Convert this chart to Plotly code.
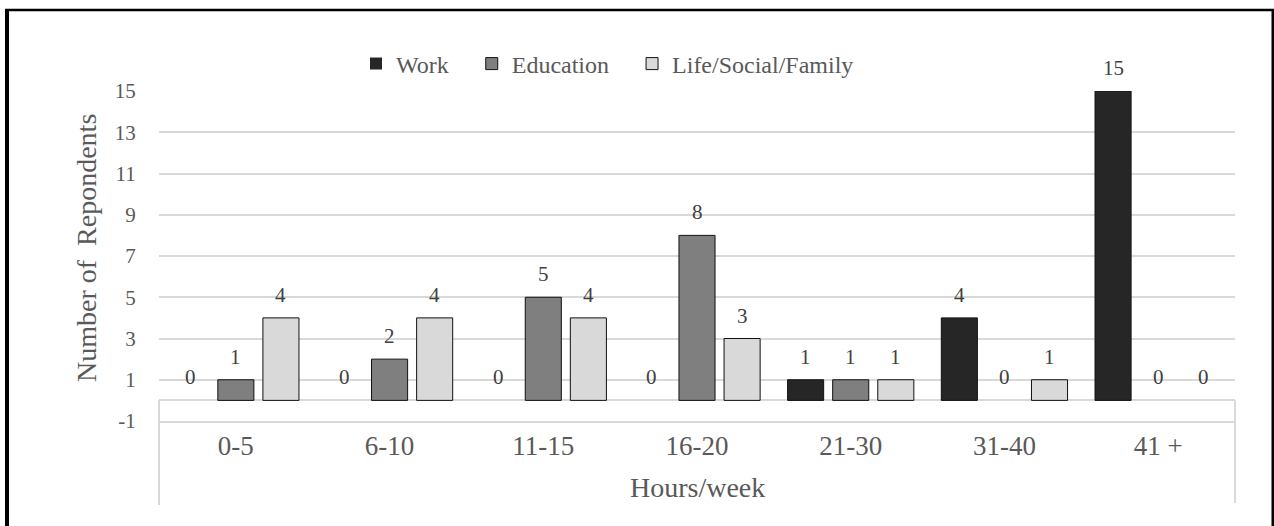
import plotly.graph_objects as go

categories = ["0-5", "6-10", "11-15", "16-20", "21-30", "31-40", "41 +"]
work = [0, 0, 0, 0, 1, 4, 15]
education = [1, 2, 5, 8, 1, 0, 0]
life = [4, 4, 4, 3, 1, 1, 0]
y_ticks = [-1, 1, 3, 5, 7, 9, 11, 13, 15]

series = [
    ("Work", work, "#262626"),
    ("Education", education, "#7f7f7f"),
    ("Life/Social/Family", life, "#d9d9d9"),
]

FONT = "Liberation Serif, Times New Roman, serif"
TXT = "#595959"
GRID = "#d9d9d9"

# plot area in pixels: x 159..1235, y 91..421
W, H = 1274, 526
ML, MR, MT, MB = 159, 39, 91, 105
PW = W - ML - MR
PH = H - MT - MB


def px_x(p):
    return (p - ML) / PW


def px_y(p):
    return (H - MB - p) / PH


fig = go.Figure()
for name, vals, color in series:
    fig.add_trace(go.Bar(
        x=categories, y=vals, name=name + "\u00a0\u00a0\u00a0",
        base=0,
        marker=dict(color=color, line=dict(color="#111111",
                                           width=[1 if v else 0 for v in vals])),
    ))

# value labels above each bar
slot = PW / len(categories) * 0.88 / 3
annotations = []
for i, (name, vals, color) in enumerate(series):
    for c, v in zip(categories, vals):
        annotations.append(dict(
            x=c, y=v, xref="x", yref="y", text=str(v), showarrow=False,
            xshift=(i - 1) * slot, yshift=23, yanchor="middle",
            font=dict(family=FONT, size=21, color="#404040"),
        ))

annotations.append(dict(
    x=0.5, y=px_y(487), xref="paper", yref="paper", text="Hours/week",
    showarrow=False, yanchor="middle", font=dict(family=FONT, size=28, color=TXT),
))
annotations.append(dict(
    x=px_x(87), y=px_y(248), xref="paper", yref="paper",
    text="Number of\u00a0\u00a0Repondents", textangle=-90, showarrow=False,
    xanchor="center", yanchor="middle", font=dict(family=FONT, size=28, color=TXT),
))

shapes = [
    # category box edges
    dict(type="line", xref="paper", yref="paper", x0=0, x1=0,
         y0=px_y(505), y1=px_y(400), line=dict(color=GRID, width=2)),
    dict(type="line", xref="paper", yref="paper", x0=1, x1=1,
         y0=px_y(503), y1=px_y(400), line=dict(color=GRID, width=2)),
    # outer frame
    dict(type="line", xref="paper", yref="paper", x0=px_x(7), x1=px_x(7),
         y0=px_y(9), y1=px_y(530), line=dict(color="black", width=4)),
    dict(type="line", xref="paper", yref="paper", x0=px_x(5), x1=px_x(1276),
         y0=px_y(10), y1=px_y(10), line=dict(color="black", width=2.5)),
    dict(type="line", xref="paper", yref="paper", x0=px_x(1273), x1=px_x(1273),
         y0=px_y(9), y1=px_y(530), line=dict(color="black", width=3)),
]

fig.update_layout(
    width=W, height=H,
    margin=dict(l=ML, r=MR, t=MT, b=MB),
    plot_bgcolor="white", paper_bgcolor="white",
    barmode="group", bargap=0.12, bargroupgap=0.2,
    font=dict(family=FONT, color=TXT),
    showlegend=True,
    legend=dict(
        orientation="h", x=px_x(356), y=px_y(64), xanchor="left", yanchor="middle",
        font=dict(family=FONT, size=24, color=TXT),
        itemwidth=30, traceorder="normal",
    ),
    xaxis=dict(
        showline=True, linecolor=GRID, linewidth=2,
        ticks="", tickfont=dict(family=FONT, size=27, color=TXT),
        showgrid=False,
    ),
    yaxis=dict(
        range=[-1, 15], tickvals=y_ticks, ticktext=[str(t) for t in y_ticks],
        showgrid=True, gridcolor=GRID, gridwidth=2,
        zeroline=True, zerolinecolor=GRID, zerolinewidth=2,
        ticks="outside", ticklen=18, tickcolor="rgba(0,0,0,0)",
        tickfont=dict(family=FONT, size=21, color=TXT),
    ),
    annotations=annotations,
    shapes=shapes,
)

fig.write_html("out.html", config={"displayModeBar": False},
               post_script="document.body.style.margin='0';")
